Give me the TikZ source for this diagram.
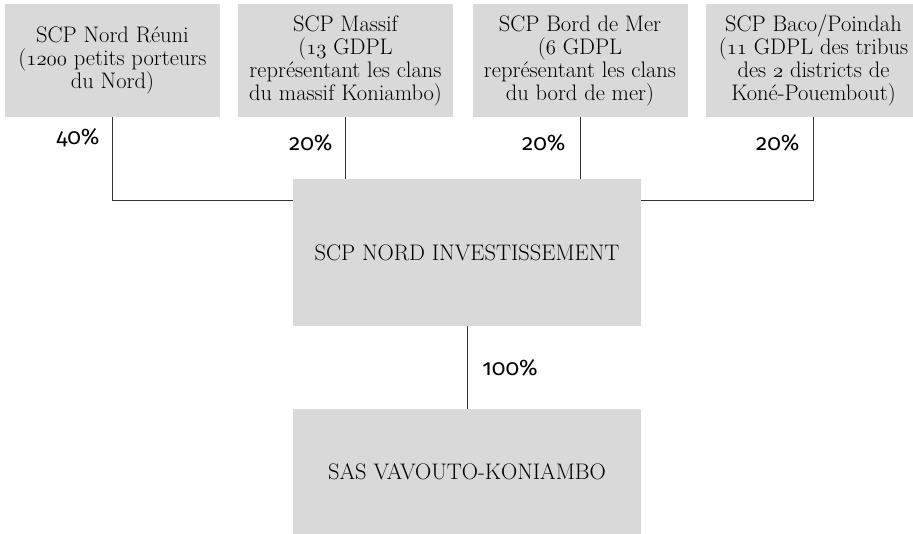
\documentclass[tikz,border=0pt]{standalone}
\usepackage{fontspec}
\newfontfamily\pctfont[Numbers=OldStyle]{Fira Sans}
\usetikzlibrary{calc}
\definecolor{boxgray}{HTML}{D9D9D9}
\definecolor{linegray}{HTML}{333333}
\newcommand\osnum[1]{{\usefont{OML}{cmm}{m}{it}#1}}

\begin{document}
\begin{tikzpicture}[x=1pt,y=-1pt,line width=0.9pt,draw=linegray,
  main node/.style={fill=boxgray,minimum width=215,minimum height=113,inner sep=0pt,
    align=center,font=\fontsize{22.5}{23}\selectfont},
  big node/.style={main node,minimum width=348},
  pct/.style={inner sep=0pt,font=\pctfont\fontsize{22.5}{22.5}\selectfont}]

\useasboundingbox (0,0) rectangle (913,533);

\node[main node](NR) at (112.5,60.5) {SCP Nord Réuni\\(\osnum{1200} petits porteurs\\du Nord)};
\node[main node](MA) at (345.5,60.5) {SCP Massif\\(\osnum{13} GDPL\\représentant les clans\\du massif Koniambo)};
\node[main node](BM) at (580,60.5) {SCP Bord de Mer\\(\osnum{6} GDPL\\représentant les clans\\du bord de mer)};
\node[main node](BP) at (813.5,60.5) {SCP Baco/Poindah\\(\osnum{11} GDPL des tribus\\des \osnum{2} districts de\\Koné-Pouembout)};
\node[big node,minimum height=147](NI) at (467,252.5) {SCP NORD INVESTISSEMENT};
\node[big node,minimum height=126](SV) at (467,472) {SAS VAVOUTO-KONIAMBO};
\coordinate (J) at (0,200);

\node[pct,anchor=east](P1) at (100,138) {40\%};
\node[pct,anchor=east](P2) at (333,143) {20\%};
\node[pct,anchor=east](P3) at (566,143) {20\%};
\node[pct,anchor=east](P4) at (800,143) {20\%};
\node[pct,anchor=west](P5) at (482,368) {100\%};

\draw (NR.south) |- (NI.west |- J);
\draw (BP.south) |- (NI.east |- J);
\path
(MA.south) edge (MA.south |- NI.north)
(BM.south) edge (BM.south |- NI.north)
(NI.south) edge (SV.north);

\end{tikzpicture}
\end{document}
